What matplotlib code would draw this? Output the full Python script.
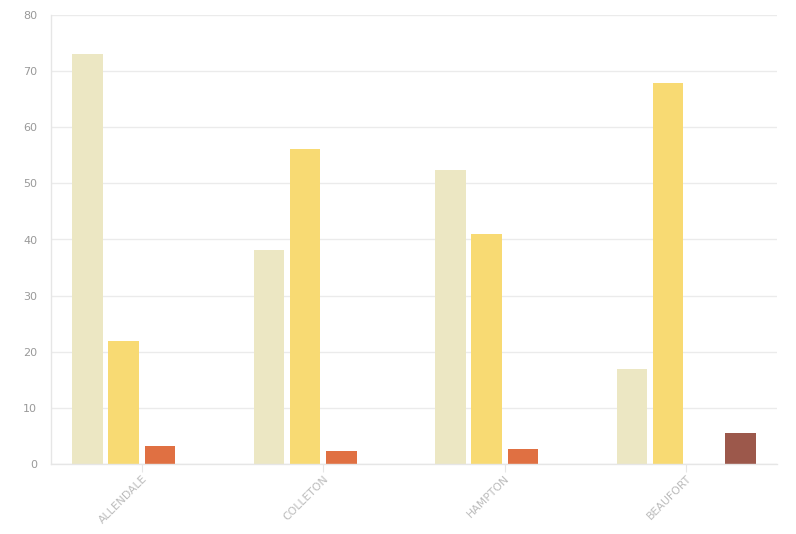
import matplotlib
matplotlib.use("Agg")
import matplotlib.pyplot as plt
import numpy as np

categories = ["ALLENDALE", "COLLETON", "HAMPTON", "BEAUFORT"]
series_a = [73.0, 38.2, 52.4, 16.9]
series_b = [22.0, 56.2, 40.9, 67.9]
series_c = [3.2, 2.3, 2.6, 0.0]
series_d = [0.0, 0.0, 0.0, 5.6]
colors = ["#ece7c3", "#f8da73", "#e07042", "#9c584b"]

fig = plt.figure(figsize=(7.96, 5.34), dpi=100)
ax = fig.add_axes([51/796, 70/534, 726/796, 449/534])

x = np.arange(len(categories))
step = 0.2
width = 0.168
for i, (vals, c) in enumerate(zip([series_a, series_b, series_c, series_d], colors)):
    ax.bar(x + (i - 1.5) * step, vals, width=width, color=c, zorder=2)

ax.set_xlim(-0.5, len(categories) - 0.5)
ax.set_ylim(0, 80)
ax.set_yticks(np.arange(0, 81, 10))
ax.set_xticks(x)
ax.set_xticklabels(categories, rotation=45, ha="right", rotation_mode="anchor",
                   color="#bbbbbb", fontsize=7.8)
ax.tick_params(axis="y", length=0, pad=10, labelcolor="#999999", labelsize=8)
ax.tick_params(axis="x", length=6, color="#e6e6e6", pad=1)
ax.grid(axis="y", color="#ebebeb", linewidth=1, zorder=0)
for s in ["top", "right"]:
    ax.spines[s].set_visible(False)
for s in ["left", "bottom"]:
    ax.spines[s].set_color("#e6e6e6")
    ax.spines[s].set_linewidth(1)

fig.savefig("out.png", dpi=100)
